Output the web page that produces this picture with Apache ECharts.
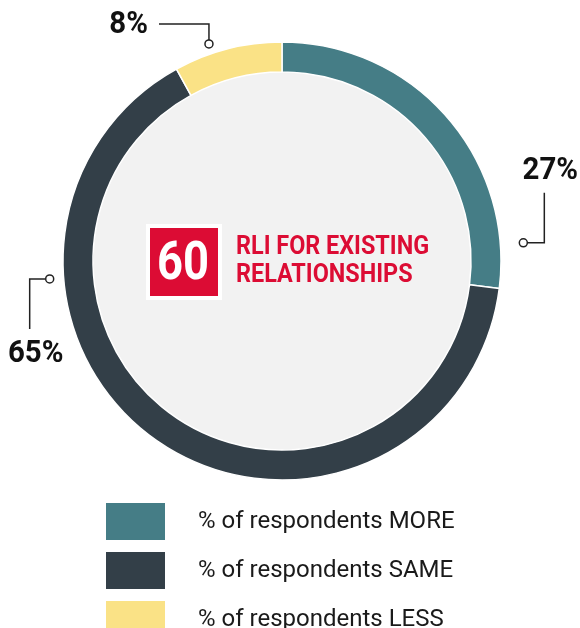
<!DOCTYPE html>
<html>
<head>
<meta charset="utf-8">
<script src="https://cdn.jsdelivr.net/npm/echarts@6/dist/echarts.min.js"></script>
<style>
  html, body { margin: 0; padding: 0; background: #fff; }
  #chart { width: 580px; height: 628px; }
</style>
</head>
<body>
<div id="chart"></div>
<script>
// data
const categories = ['% of respondents MORE', '% of respondents SAME', '% of respondents LESS'];
const shares = [27, 65, 8];
const colors = ['#457d86', '#333f48', '#fae286'];
const rliValue = 60;
const rliTitle = 'RLI FOR EXISTING\nRELATIONSHIPS';

// callout layout: polar spot of the small circle (deg clockwise from top, px from centre)
const callouts = [
    { angle: 85.7, r: 242, side: 'right' },
    { angle: 265.6, r: 233, side: 'left' },
    { angle: 341.4, r: 229, side: 'top' }
];

const font = 'Roboto, "Liberation Sans", sans-serif';
const cx = 282, cy = 261;

let chart = echarts.init(document.getElementById('chart'));

// build the callout graphics (circle + elbow line + value text)
function calloutGraphics() {
    let out = [];
    callouts.forEach(function (c, i) {
        let a = c.angle * Math.PI / 180;
        let px = cx + c.r * Math.sin(a);
        let py = cy - c.r * Math.cos(a);
        let pts, text;
        if (c.side === 'right') {
            pts = [[px + 4, py], [px + 21, py], [px + 21, py - 50]];
            text = { x: px + 27, y: py - 56, align: 'center', verticalAlign: 'bottom' };
        } else if (c.side === 'left') {
            pts = [[px - 4, py], [px - 20, py], [px - 20, py + 50]];
            text = { x: px - 14, y: py + 59, align: 'center', verticalAlign: 'top' };
        } else {
            pts = [[px, py - 4], [px, py - 20], [px - 50, py - 20]];
            text = { x: px - 61, y: py - 19, align: 'right', verticalAlign: 'middle' };
        }
        out.push({
            type: 'polyline', silent: true, z: 10,
            shape: { points: pts },
            style: { stroke: '#222', lineWidth: 1.5, fill: null }
        });
        out.push({
            type: 'circle', silent: true, z: 10,
            shape: { cx: px, cy: py, r: 4 },
            style: { fill: '#fff', stroke: '#222', lineWidth: 1.5 }
        });
        out.push({
            type: 'text', silent: true, z: 10,
            x: text.x, y: text.y, scaleX: 0.92,
            style: {
                text: shares[i] + '%',
                font: 'bold 32px ' + font,
                fill: '#111',
                align: text.align,
                verticalAlign: text.verticalAlign
            }
        });
    });
    return out;
}

let option = {
    animation: false,
    color: colors,
    legend: {
        orient: 'vertical',
        left: 104,
        top: 501,
        height: 140,
        padding: 0,
        itemWidth: 61,
        itemHeight: 39,
        itemGap: 8,
        icon: 'rect',
        selectedMode: false,
        data: categories,
        textStyle: {
            fontFamily: font,
            fontSize: 24,
            color: '#1a1a1a',
            padding: [0, 0, 0, 27]
        }
    },
    series: [
        {
            // light disc inside the ring
            type: 'pie',
            silent: true,
            center: [cx, cy],
            radius: [0, 190],
            label: { show: false },
            labelLine: { show: false },
            itemStyle: { color: '#f2f2f2' },
            data: [{ value: 1, name: 'bg' }]
        },
        {
            type: 'pie',
            center: [cx, cy],
            radius: [189, 219],
            startAngle: 90,
            clockwise: true,
            silent: true,
            label: { show: false },
            labelLine: { show: false },
            itemStyle: { borderColor: '#fff', borderWidth: 1.5 },
            data: categories.map(function (name, i) {
                return { name: name, value: shares[i], itemStyle: { color: colors[i] } };
            })
        }
    ],
    graphic: calloutGraphics().concat([
        {
            type: 'rect', silent: true, z: 10,
            shape: { x: 148, y: 226, width: 72, height: 72 },
            style: { fill: '#dc0c34', stroke: '#fff', lineWidth: 4 }
        },
        {
            type: 'text', silent: true, z: 11,
            x: 183, y: 265, scaleX: 0.84,
            style: {
                text: String(rliValue),
                font: 'bold 54px ' + font,
                fill: '#fff',
                align: 'center',
                verticalAlign: 'middle'
            }
        },
        {
            type: 'text', silent: true, z: 11,
            x: 236, y: 233, scaleX: 0.9,
            style: {
                text: rliTitle,
                font: 'bold 26px ' + font,
                fill: '#dc0c34',
                lineHeight: 28,
                align: 'left',
                verticalAlign: 'top'
            }
        }
    ])
};

chart.setOption(option);
</script>
</body>
</html>
